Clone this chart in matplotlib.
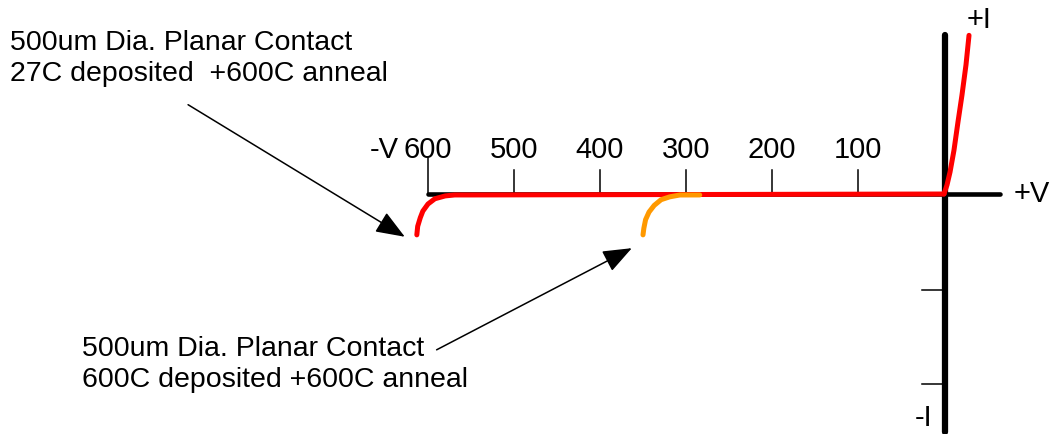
import matplotlib
matplotlib.use('Agg')
import matplotlib.pyplot as plt

plt.rcParams['font.family'] = ['Liberation Sans', 'DejaVu Sans']

# Reverse voltage ticks (V) and current ticks (arbitrary units)
v_ticks = [-600, -500, -400, -300, -200, -100]
v_tick_labels = ['600', '500', '400', '300', '200', '100']
i_ticks = [-1.01, -2.0]

# Forward conduction branch (V, I)
fwd_v = [0, 3.5, 7.0, 11.6, 16.3, 20.9, 25.6, 29.1]
fwd_i = [0, 0.095, 0.23, 0.46, 0.76, 1.04, 1.36, 1.67]

# 27C deposited + 600C anneal: breakdown branch
red_v = [0, -551, -569, -580, -592, -600, -606, -609, -612, -613]
red_i = [0, -0.01, -0.01, -0.02, -0.05, -0.105, -0.18, -0.25, -0.34, -0.43]

# 600C deposited + 600C anneal: breakdown branch
org_v = [-284, -307, -319, -329, -337, -343, -347, -349, -350]
org_i = [-0.01, -0.01, -0.03, -0.06, -0.12, -0.19, -0.27, -0.36, -0.43]

fig = plt.figure(figsize=(10.52, 4.34), dpi=100)
ax = fig.add_axes([0, 0, 1, 1])
ax.set_xlim(-1097.7, 125.6)
ax.set_ylim(-2.526, 2.042)
ax.axis('off')

# axes of the I-V sketch
ax.plot([-600, 65], [0, 0], color='black', lw=3.3, solid_capstyle='round', zorder=2)
ax.plot([1, 1], [-2.5, 1.67], color='black', lw=4.5, solid_capstyle='round', zorder=2)

for v in v_ticks:
    top = 0.38 if v == -600 else 0.25
    ax.plot([v, v], [0, top], color='black', lw=1.1, zorder=1)
for v, lab in zip(v_ticks, v_tick_labels):
    ax.text(v, 0.468, lab, fontsize=21, ha='center', va='center')
for i in i_ticks:
    ax.plot([-26, 0], [i, i], color='black', lw=1.1, zorder=1)

# curves
ax.plot(red_v, red_i, color='#ff0000', lw=3.6, solid_capstyle='round', zorder=3)
ax.plot(fwd_v, fwd_i, color='#ff0000', lw=3.6, solid_capstyle='round', zorder=3)
ax.plot(org_v, org_i, color='#ff9900', lw=3.6, solid_capstyle='round', zorder=4)

# axis labels
ax.text(-651, 0.468, '-V', fontsize=21, ha='center', va='center')
ax.text(102, 0.0, '+V', fontsize=21, ha='center', va='center')
ax.text(41, 1.83, '+I', fontsize=21, ha='center', va='center')
ax.text(-24, -2.36, '-I', fontsize=21, ha='center', va='center')

# annotations
arrow = dict(arrowstyle='-|>,head_length=0.9,head_width=0.35', color='black',
             lw=1.1, mutation_scale=20, shrinkA=0, shrinkB=0)
ax.annotate('', xy=(-627, -0.45), xytext=(-879, 0.94), arrowprops=arrow)
ax.annotate('', xy=(-363, -0.57), xytext=(-590, -1.64), arrowprops=arrow)

ax.text(-1086, 1.426, '500um Dia. Planar Contact\n27C deposited  +600C anneal',
        fontsize=20.5, ha='left', va='center', linespacing=1.22)
ax.text(-1002, -1.795, '500um Dia. Planar Contact\n600C deposited +600C anneal',
        fontsize=20.5, ha='left', va='center', linespacing=1.22)

plt.savefig('out.png', dpi=100)
